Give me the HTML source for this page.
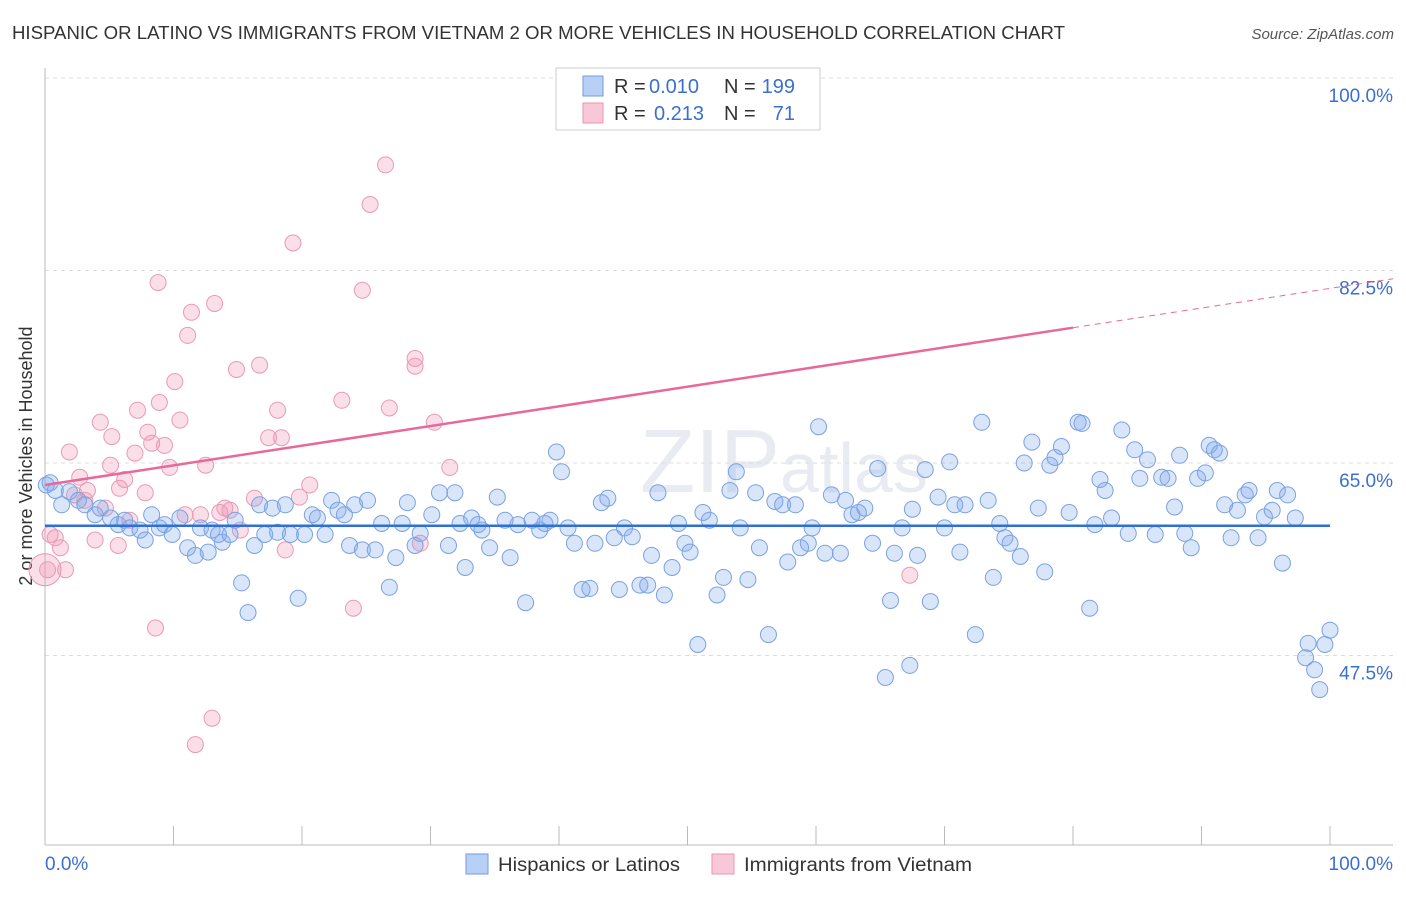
<!DOCTYPE html>
<html><head><meta charset="utf-8"><style>
body{margin:0;background:#fff;font-family:"Liberation Sans",sans-serif;}
svg text{font-family:"Liberation Sans",sans-serif;}
</style></head><body>
<svg id="chart" width="1406" height="892" xmlns="http://www.w3.org/2000/svg">
<text x="12" y="39" font-size="18" fill="#333" textLength="1053" lengthAdjust="spacingAndGlyphs">HISPANIC OR LATINO VS IMMIGRANTS FROM VIETNAM 2 OR MORE VEHICLES IN HOUSEHOLD CORRELATION CHART</text>
<text x="1394" y="39" font-size="15" fill="#555" text-anchor="end" font-style="italic">Source: ZipAtlas.com</text>
<text x="32" y="456" font-size="18" fill="#333" text-anchor="middle" transform="rotate(-90 32 456)">2 or more Vehicles in Household</text>
<text x="640" y="492" font-size="90" fill="#e8ecf2" font-family="Liberation Serif">ZIP<tspan font-family="Liberation Sans" font-size="70">atlas</tspan></text>
<g id="grid"></g><g id="axes"></g><g id="pinkPts"></g><g id="bluePts"></g><g id="trends"></g>
<g>
<rect x="556" y="68" width="264" height="62" fill="#fff" stroke="#ccc"/>
<rect x="583" y="76" width="20" height="20" fill="#b8d0f5" stroke="#6f9be0"/>
<g font-size="20">
<text x="614" y="93" fill="#333">R =</text><text x="649" y="93" fill="#3b6fd0">0.010</text>
<text x="724" y="93" fill="#333">N =</text><text x="795" y="93" fill="#3b6fd0" text-anchor="end">199</text></g>
<rect x="583" y="103" width="20" height="20" fill="#f9c8d8" stroke="#e896b0"/>
<g font-size="20">
<text x="614" y="120" fill="#333">R =</text><text x="654" y="120" fill="#3b6fd0">0.213</text>
<text x="724" y="120" fill="#333">N =</text><text x="795" y="120" fill="#3b6fd0" text-anchor="end">71</text></g>
</g>
<g>
<rect x="466" y="854" width="22" height="20" fill="#b8d0f5" stroke="#6f9be0"/>
<text x="498" y="871" font-size="19" fill="#333" textLength="182" lengthAdjust="spacingAndGlyphs">Hispanics or Latinos</text>
<rect x="712" y="854" width="22" height="20" fill="#f9c8d8" stroke="#e896b0"/>
<text x="744" y="871" font-size="19" fill="#333" textLength="228" lengthAdjust="spacingAndGlyphs">Immigrants from Vietnam</text>
</g>
</svg>
<script>
const yTicks=[47.5,65.0,82.5,100.0];
const xTickVals=[0,10,20,30,40,50,60,70,80,90,100];
const blueX=[0.4,0.8,1.3,1.9,2.6,3.1,3.9,4.3,5.1,5.7,6.2,6.6,7.4,7.8,8.3,8.9,9.3,9.9,10.5,11.1,11.7,12.1,12.7,13.0,13.5,13.8,14.4,14.8,15.3,15.8,16.3,16.7,17.1,17.7,18.1,18.7,19.1,19.7,20.2,20.8,21.2,21.8,22.3,22.8,23.3,23.7,24.1,24.7,25.1,25.7,26.2,26.8,27.3,27.8,28.2,28.8,29.2,30.1,30.7,31.4,31.9,32.3,32.7,33.2,33.7,34.0,34.6,35.2,35.8,36.2,36.8,37.4,37.9,38.5,38.9,39.3,39.8,40.2,40.7,41.2,41.8,42.4,42.8,43.3,43.8,44.3,44.7,45.1,45.7,46.3,46.9,47.2,47.7,48.2,48.8,49.3,49.8,50.2,50.8,51.2,51.7,52.3,52.8,53.3,53.8,54.1,54.7,55.3,55.6,56.3,56.8,57.4,57.8,58.4,58.8,59.4,59.7,60.2,60.7,61.2,61.9,62.3,62.8,63.3,63.8,64.4,64.8,65.4,65.8,66.1,66.7,67.3,67.5,67.9,68.5,68.9,69.5,70.0,70.4,70.8,71.2,71.6,72.4,72.9,73.4,73.8,74.3,74.7,75.1,75.9,76.2,76.8,77.3,77.8,78.2,78.6,79.1,79.7,80.4,80.7,81.3,81.7,82.1,82.5,83.0,83.8,84.3,84.8,85.2,85.8,86.4,86.9,87.4,87.9,88.3,88.7,89.2,89.7,90.3,90.6,91.0,91.4,91.8,92.3,92.8,93.4,93.7,94.4,94.9,95.5,95.9,96.7,97.3,96.3,98.1,98.3,98.8,99.2,99.6,100,0.1];
const blueY=[63.2,62.5,61.2,62.4,61.6,61.2,60.3,60.9,60.0,59.4,59.8,59.1,58.9,58.0,60.3,59.1,59.4,58.5,60.0,57.3,56.6,59.1,56.9,58.9,58.5,57.8,58.5,59.8,54.1,51.4,57.5,61.2,58.5,60.9,58.7,61.2,58.5,52.7,58.5,60.3,60.0,58.5,61.6,60.7,60.3,57.5,61.2,57.1,61.6,57.1,59.5,53.7,56.4,59.5,61.4,57.5,58.6,60.3,62.3,57.5,62.3,59.5,55.5,60.0,59.4,58.9,57.3,61.9,59.8,56.4,59.4,52.3,59.8,58.9,59.5,59.8,66.0,64.2,59.1,57.7,53.5,53.6,57.7,61.4,61.8,58.2,53.5,59.1,58.3,53.9,53.9,56.6,62.3,53.0,55.5,59.5,57.7,56.9,48.5,60.5,59.8,53.0,54.6,62.5,64.2,59.1,54.4,62.3,57.3,49.4,61.5,61.2,56.0,61.2,57.3,57.7,59.1,68.3,56.8,62.1,56.8,61.6,60.3,60.5,60.9,57.7,64.5,45.5,52.5,56.8,59.1,46.6,60.8,56.6,64.4,52.4,61.9,59.1,65.1,61.2,56.9,61.2,49.4,68.7,61.6,54.6,59.5,58.2,57.7,56.5,65.0,66.9,60.9,55.1,64.8,65.5,66.5,60.5,68.7,68.6,51.8,59.4,63.5,62.5,60.0,68.0,58.6,66.2,63.6,65.3,58.5,63.7,63.6,61.0,65.7,58.6,57.3,63.6,64.1,66.6,66.2,65.9,61.2,58.2,60.7,62.1,62.5,58.2,60.1,60.7,62.5,62.1,60.0,55.9,47.3,48.6,46.2,44.4,48.5,49.8,63.0];
const pinkX=[0.4,0.8,1.2,1.6,1.9,2.3,2.7,3.1,3.3,3.9,4.3,4.7,5.1,5.2,5.7,5.8,6.2,6.6,7.0,7.2,7.8,8.0,8.3,8.6,8.8,8.9,9.3,9.7,10.1,10.5,10.9,11.1,11.4,11.7,12.1,12.5,13.0,13.2,13.6,14.0,14.4,14.9,15.2,16.3,16.7,17.4,18.1,18.4,18.7,19.3,19.8,20.6,23.1,24.0,24.7,25.3,26.5,26.8,28.8,28.8,29.2,30.3,31.5,67.3,0.2];
const pinkY=[58.5,58.2,57.3,55.3,66.0,62.1,63.7,61.6,62.5,58.0,68.7,60.9,64.8,67.4,57.5,62.7,63.5,59.8,65.9,69.8,62.3,67.8,66.8,50.0,81.4,70.5,66.6,64.6,72.4,68.9,60.3,76.6,78.7,39.4,60.3,64.8,41.8,79.5,60.5,60.9,60.7,73.5,58.9,61.8,73.9,67.3,69.8,67.3,57.1,85.0,61.9,63.0,70.7,51.8,80.7,88.5,92.1,70.0,74.5,73.8,57.7,68.7,64.6,54.8,55.3];
const bigPink=[0,55.3];
const blueTrend=[59.3,59.3];
const pinkTrend=[63.0,77.3];
const pinkTrendEndX=80;

const NS="http://www.w3.org/2000/svg";
const X=v=>45+v*12.85, Y=v=>463-(v-65)*11;
function mk(tag,attrs,parent){const e=document.createElementNS(NS,tag);for(const k in attrs)e.setAttribute(k,attrs[k]);parent.appendChild(e);return e;}
const grid=document.getElementById('grid'),axes=document.getElementById('axes');
yTicks.forEach(t=>{
 const l=mk('line',{x1:45,x2:1393,y1:Y(t),y2:Y(t),stroke:'#dcdcdc','stroke-dasharray':'4 4'},grid);
 
 
 const tx=mk('text',{x:1393,y:Y(t)+24,'font-size':19,fill:'#3b6fd0','text-anchor':'end'},grid);
 tx.textContent=t.toFixed(1)+'%';
 
 
});
const ya=mk('line',{x1:45,x2:45,y1:68,y2:845,stroke:'#bbb'},axes);


const xa=mk('line',{x1:45,x2:1393,y1:845,y2:845,stroke:'#bbb'},axes);


xTickVals.forEach(v=>{
 const t=mk('line',{x1:X(v),x2:X(v),y1:826,y2:845,stroke:'#bbb'},axes);
 
 
});
const xl0=mk('text',{x:45,y:870,'font-size':19,fill:'#3b6fd0'},axes);xl0.textContent='0.0%';


const xl1=mk('text',{x:1393,y:870,'font-size':19,fill:'#3b6fd0','text-anchor':'end'},axes);xl1.textContent='100.0%';


const pg=document.getElementById('pinkPts'),bg=document.getElementById('bluePts');
const bp=mk('circle',{cx:X(bigPink[0]),cy:Y(bigPink[1]),r:16,fill:'rgba(240,150,180,0.3)',stroke:'#e896b0'},pg);


pinkX.forEach((x,i)=>{
 const c=mk('circle',{cx:X(x),cy:Y(pinkY[i]),r:8,fill:'rgba(240,150,180,0.3)',stroke:'#e99ab4','stroke-width':1},pg);
 
 
});
blueX.forEach((x,i)=>{
 const c=mk('circle',{cx:X(x),cy:Y(blueY[i]),r:8,fill:'rgba(130,170,235,0.3)',stroke:'#7aa2e2','stroke-width':1},bg);
 
 
});
const tr=document.getElementById('trends');
const bt=mk('line',{x1:X(0),x2:X(100),y1:Y(blueTrend[0]),y2:Y(blueTrend[1]),stroke:'#2f6fd6','stroke-width':2.5},tr);


const slope=(pinkTrend[1]-pinkTrend[0])/pinkTrendEndX;
const pt=mk('line',{x1:X(0),x2:X(pinkTrendEndX),y1:Y(pinkTrend[0]),y2:Y(pinkTrend[1]),stroke:'#e8689a','stroke-width':2.5},tr);


const pd=mk('line',{x1:X(pinkTrendEndX),x2:1393,y1:Y(pinkTrend[1]),y2:Y(pinkTrend[0]+slope*((1393-45)/12.85)),stroke:'#e8689a','stroke-width':1,'stroke-dasharray':'6 5'},tr);


</script>
</body></html>
